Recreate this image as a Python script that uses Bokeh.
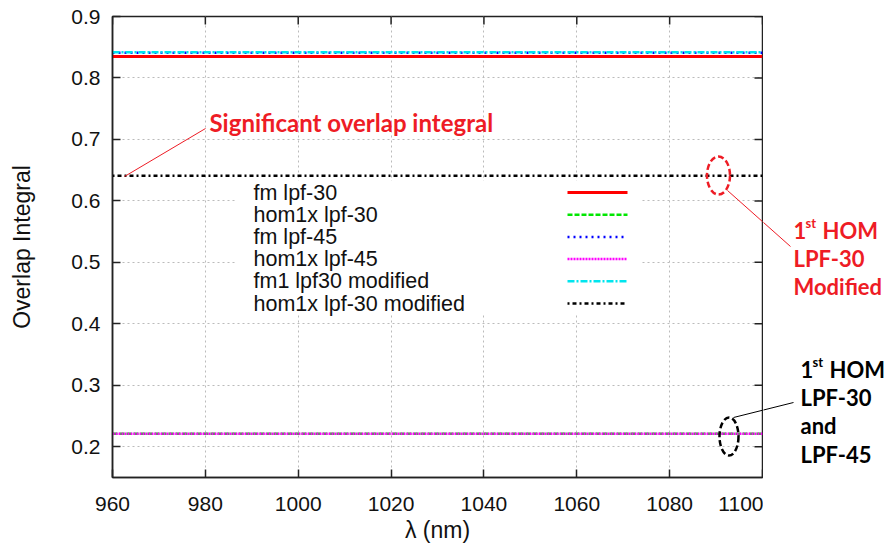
from bokeh.plotting import figure
from bokeh.models import Range1d, FixedTicker, Label, ColumnDataSource
from bokeh.layouts import row
from bokeh.core.properties import value
from bokeh.embed import file_html
from bokeh.resources import INLINE

# ---------------- data ----------------
wavelength = [960, 980, 1000, 1020, 1040, 1060, 1080, 1100]
fm_lpf30 = [0.835, 0.835, 0.835, 0.835, 0.835, 0.835, 0.835, 0.835]
hom1x_lpf30 = [0.221, 0.221, 0.221, 0.221, 0.221, 0.221, 0.221, 0.221]
fm_lpf45 = [0.841, 0.841, 0.841, 0.841, 0.841, 0.841, 0.841, 0.841]
hom1x_lpf45 = [0.221, 0.221, 0.221, 0.221, 0.221, 0.221, 0.221, 0.221]
fm1_lpf30_mod = [0.842, 0.842, 0.842, 0.842, 0.842, 0.842, 0.842, 0.842]
hom1x_lpf30_mod = [0.641, 0.641, 0.641, 0.641, 0.641, 0.641, 0.641, 0.641]

series_names = ["fm lpf-30", "hom1x lpf-30", "fm lpf-45", "hom1x lpf-45",
                "fm1 lpf30 modified", "hom1x lpf-30 modified"]
series_values = [fm_lpf30, hom1x_lpf30, fm_lpf45, hom1x_lpf45, fm1_lpf30_mod, hom1x_lpf30_mod]
x_ticks = [960, 980, 1000, 1020, 1040, 1060, 1080, 1100]
y_ticks = [0.2, 0.3, 0.4, 0.5, 0.6, 0.7, 0.8, 0.9]

# ---------------- styles ----------------
colors = ["#ff0000", "#00e600", "#0000ff", "#ff00ff", "#00e5ee", "#000000"]
dashes = ["solid", "5 2", "2 4", "2 1", "7 2 2 2", "2 3 4 3"]
widths = [3, 2.5, 2.5, 2.5, 2.5, 2.5]

W, H = 884, 549
L, R, T, B = 112, 762, 16, 477
MAIN_W = R + 1
X0, X1, Y0, Y1 = 960, 1100, 0.15, 0.9

def px2x(px):
    return X0 + (px - L) / (R - L) * (X1 - X0)

def px2y(py):
    return Y1 - (py - T) / (B - T) * (Y1 - Y0)

p = figure(width=MAIN_W, height=H, output_backend="svg", toolbar_location=None,
           x_range=Range1d(X0, X1), y_range=Range1d(Y0, Y1),
           min_border_left=L, min_border_right=MAIN_W - R, min_border_top=T,
           min_border_bottom=H - B)
p.background_fill_color = "white"
p.border_fill_color = "white"
p.outline_line_color = "#222222"
p.outline_line_width = 1.5

font = "Liberation Sans"
for ax in (p.xaxis[0], p.yaxis[0]):
    ax.major_label_text_font = font
    ax.major_label_text_font_size = "21px"
    ax.major_label_text_color = "#111111"
    ax.axis_label_text_font = font
    ax.axis_label_text_font_size = "23px"
    ax.axis_label_text_font_style = "normal"
    ax.axis_label_text_color = "#111111"
    ax.minor_tick_line_color = None
    ax.major_tick_in = 8
    ax.major_tick_out = 0
    ax.major_tick_line_color = "#222222"
    ax.major_tick_line_width = 1.5
    ax.axis_line_color = "#222222"
    ax.axis_line_width = 1.5

p.xaxis.ticker = FixedTicker(ticks=x_ticks)
p.yaxis.ticker = FixedTicker(ticks=y_ticks)
p.xaxis.axis_label = "λ (nm)"
p.yaxis.axis_label = "Overlap Integral"
p.xaxis.major_label_standoff = 19
p.xaxis.axis_label_standoff = 3
p.yaxis.major_label_standoff = 12
p.yaxis.axis_label_standoff = 33

p.grid.grid_line_color = "#bbbbbb"
p.grid.grid_line_dash = "2 3"
p.grid.grid_line_width = 1
p.xgrid.ticker = FixedTicker(ticks=x_ticks)
p.ygrid.ticker = FixedTicker(ticks=y_ticks)

# mirrored (inward) ticks on top and right border
p.segment(x0=x_ticks, x1=x_ticks, y0=[Y1] * len(x_ticks), y1=[px2y(T + 8)] * len(x_ticks),
          line_color="#222222", line_width=1.5)
p.segment(x0=[X1] * len(y_ticks), x1=[px2x(R - 8)] * len(y_ticks), y0=y_ticks, y1=y_ticks,
          line_color="#222222", line_width=1.5)

# series
for name, vals, c, d, w in zip(series_names, series_values, colors, dashes, widths):
    p.line(wavelength, vals, line_color=c, line_dash=d, line_width=w)

# legend (gnuplot style: text left, sample right) with opaque box
p.quad(left=px2x(236), right=px2x(640), top=px2y(180), bottom=px2y(313),
       fill_color="white", line_color=None)
row_y = [px2y(192 + 22.2 * i) for i in range(len(series_names))]
for i in range(len(series_names)):
    p.line([px2x(567), px2x(627)], [row_y[i], row_y[i]], line_color=colors[i],
           line_dash=dashes[i], line_width=widths[i])
leg = ColumnDataSource(dict(tx=[px2x(253)] * len(series_names), y=row_y, name=series_names))
p.text(x="tx", y="y", text="name", source=leg, text_font=value(font),
       text_font_size="21.5px", text_baseline="middle", text_color="#111111")

# ---------------- annotations ----------------
ann_font = "Lato"
red = "#ee1c25"

p.add_layout(Label(x=px2x(209), y=px2y(122), text="Significant overlap integral",
                   text_font=ann_font, text_font_size="24px", text_font_style="bold",
                   text_color=red, text_baseline="middle"))
p.segment(x0=[px2x(205)], y0=[px2y(128)], x1=[px2x(124)], y1=[px2y(176)],
          line_color=red, line_width=1)

p.ellipse(x=[px2x(718)], y=[px2y(175)], width=[23], height=[38],
          width_units="screen", height_units="screen", fill_color=None,
          line_color=red, line_width=2.5, line_dash="6 3")
p.ellipse(x=[px2x(728.5)], y=[px2y(436)], width=[19], height=[38],
          width_units="screen", height_units="screen", fill_color=None,
          line_color="black", line_width=2.5, line_dash="6 3")

connectors = [((727, 190), (790, 246), red), ((733, 417), (793, 402), "black")]
for (ax0, ay0), (ax1, ay1), c in connectors:
    p.segment(x0=[px2x(ax0)], y0=[px2y(ay0)], x1=[px2x(ax1)], y1=[px2y(ay1)],
              line_color=c, line_width=1)

# side panel (right of the plot frame) in pixel coordinates;
# the row layout aligns its frame vertically with the main frame (T..B)
side = figure(width=W - MAIN_W, height=H, output_backend="svg", toolbar_location=None,
              x_range=Range1d(MAIN_W, W), y_range=Range1d(B, T),
              min_border_left=0, min_border_right=0, min_border_top=T,
              min_border_bottom=H - B)
side.axis.visible = False
side.grid.visible = False
side.outline_line_color = None
side.background_fill_color = "white"
side.border_fill_color = "white"

for (ax0, ay0), (ax1, ay1), c in connectors:
    side.segment(x0=[ax0], y0=[ay0], x1=[ax1], y1=[ay1], line_color=c, line_width=1)

def lab(txt, px, py, color, size="22px"):
    side.text(x=[px], y=[py], text=[txt], text_font=value(ann_font),
              text_font_size=size, text_font_style="bold", text_color=color,
              text_baseline="middle", text_align="left")

lab("1", 793, 230, red)
lab("st", 805, 222, red, size="13px")
lab("HOM", 822, 230, red)
lab("LPF-30", 793, 258, red)
lab("Modified", 793, 286, red)

lab("1", 800, 369, "black")
lab("st", 812, 361, "black", size="13px")
lab("HOM", 829, 369, "black")
lab("LPF-30", 800, 397, "black")
lab("and", 800, 425, "black")
lab("LPF-45", 800, 454, "black")

layout = row(p, side)
open("out.html", "w").write(file_html(layout, INLINE))
